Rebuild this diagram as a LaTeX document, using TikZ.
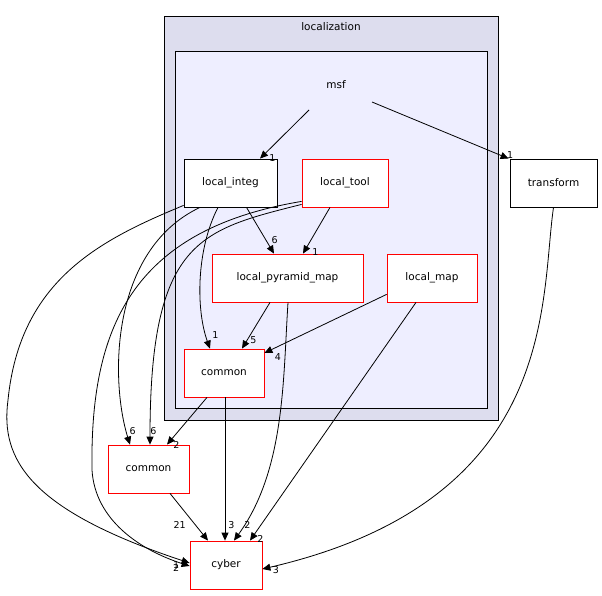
\documentclass[tikz,border=0pt]{standalone}
\usepackage{fontspec}
\setmainfont{DejaVu Sans}
\usetikzlibrary{arrows.meta,positioning}
\tikzset{
  dir/.style={draw=black,fill=white,minimum height=48pt,inner sep=0pt,font=\fontsize{10.5}{12}\selectfont},
  dirred/.style={dir,draw=red},
  dep/.style={-{Triangle[length=8pt,width=7pt]},black,line width=0.8pt},
  lbl/.style={font=\fontsize{9.5}{10}\selectfont,inner sep=0pt}
}
\begin{document}
\begin{tikzpicture}[x=1pt,y=-1pt,line width=0.8pt]
		\useasboundingbox (0,0) rectangle (602,596);
		\filldraw[fill={rgb,255:red,221;green,221;blue,238},draw=black] (164,16) rectangle (498,420);
		\node[font=\fontsize{10.5}{12}\selectfont] (locname) at (331,27) {localization};
		\filldraw[fill={rgb,255:red,238;green,238;blue,255},draw=black] (175,51) rectangle (487,408);
		\node[font=\fontsize{10.5}{12}\selectfont] (msf) at (336,85) {msf};
		
		\node[dir,minimum width=93pt] (integ) at (230.5,183) {local\_integ};
		\node[dirred,minimum width=86pt] (tool) at (345,183) {local\_tool};
		\node[dirred,minimum width=151pt] (pyr) at (287.5,278) {local\_pyramid\_map};
		\node[dirred,minimum width=90pt] (lmap) at (432,278) {local\_map};
		\node[dirred,minimum width=80pt] (icommon) at (224,373) {common};
		\node[dir,minimum width=87pt] (transform) at (553.5,183) {transform};
		\node[dirred,minimum width=81pt] (ocommon) at (148.5,469) {common};
		\node[dirred,minimum width=72pt] (cyber) at (226,565) {cyber};
		
		\coordinate (msfa) at (309,110);
		\coordinate (msfb) at (372,102);
		\draw[dep] (msfa) -- (integ.north -| 260,0) node[lbl,above right=-3pt and 9pt] {1};
		\draw[dep] (msfb) -- ([xshift=-1pt]transform.north west) node[lbl,above left=0pt and -5pt] {1};
		
		\draw[dep] (integ.south) ++(16,0) -- (pyr.north -| 274,0) node[lbl,above left=10pt and -4pt] {6};
		\draw[dep] (integ.south -| 218,0) .. controls (196,250) and (196,310) .. (icommon.north -| 210,0) node[lbl,above right=10pt and 2pt] {1};
		\draw[dep] (integ.south -| 200,0) .. controls (110,250) and (110,380) .. (ocommon.north -| 130,0) node[lbl,above left=10pt and -6pt] {6};
		\draw[dep] (integ.south west) ++(0,-2) .. controls (100,240) and (20,280) .. (8,400) .. controls (0,460) and (30,510) .. (cyber.west |- 0,563) node[lbl,above left=-6pt and 10pt] {1};
		
		\draw[dep] (tool.south -| 330,0) -- (pyr.north -| 303,0) node[lbl,above right=-2pt and 9pt] {1};
		\draw[dep] (tool.south west) ++(0,-3) .. controls (200,230) and (150,240) .. (ocommon.north -| 150,0) node[lbl,above right=10pt and 0pt] {6};
		\draw[dep] (tool.south west) ++(0,-6) .. controls (130,230) and (90,330) .. (92,470) .. controls (95,520) and (140,550) .. (cyber.west |- 0,566) node[lbl,above left=-6pt and 10pt] {2};
		
		\draw[dep] (pyr.south -| 270,0) -- (icommon.north -| 242,0) node[lbl,above right=5pt and 8pt] {5};
		\draw[dep] (pyr.south -| 288,0) .. controls (283,380) and (285,470) .. (cyber.north -| 234,0) node[lbl,above right=12pt and 10pt] {2};
		\draw[dep] (lmap.south west) ++(0,-8) -- (icommon.east |- 0,353) node[lbl,below right=0pt and 10pt] {4};
		\draw[dep] (lmap.south -| 416,0) -- (cyber.north -| 250,0) node[lbl,above right=-2pt and 7pt] {2};
		
		\draw[dep] (icommon.south -| 207,0) -- (ocommon.north -| 167,0) node[lbl,right=6pt] {2};
		\draw[dep] (icommon.south -| 225,0) -- (cyber.north -| 225,0) node[lbl,above right=12pt and 3pt] {3};
		\draw[dep] (ocommon.south -| 170,0) -- (cyber.north -| 208,0) node[lbl,above left=12pt and 22pt] {21};
		\draw[dep] (transform.south) .. controls (540,300) and (560,500) .. (cyber.east |- 0,569) node[lbl,below right=-3pt and 10pt] {3};
\end{tikzpicture}
\end{document}
